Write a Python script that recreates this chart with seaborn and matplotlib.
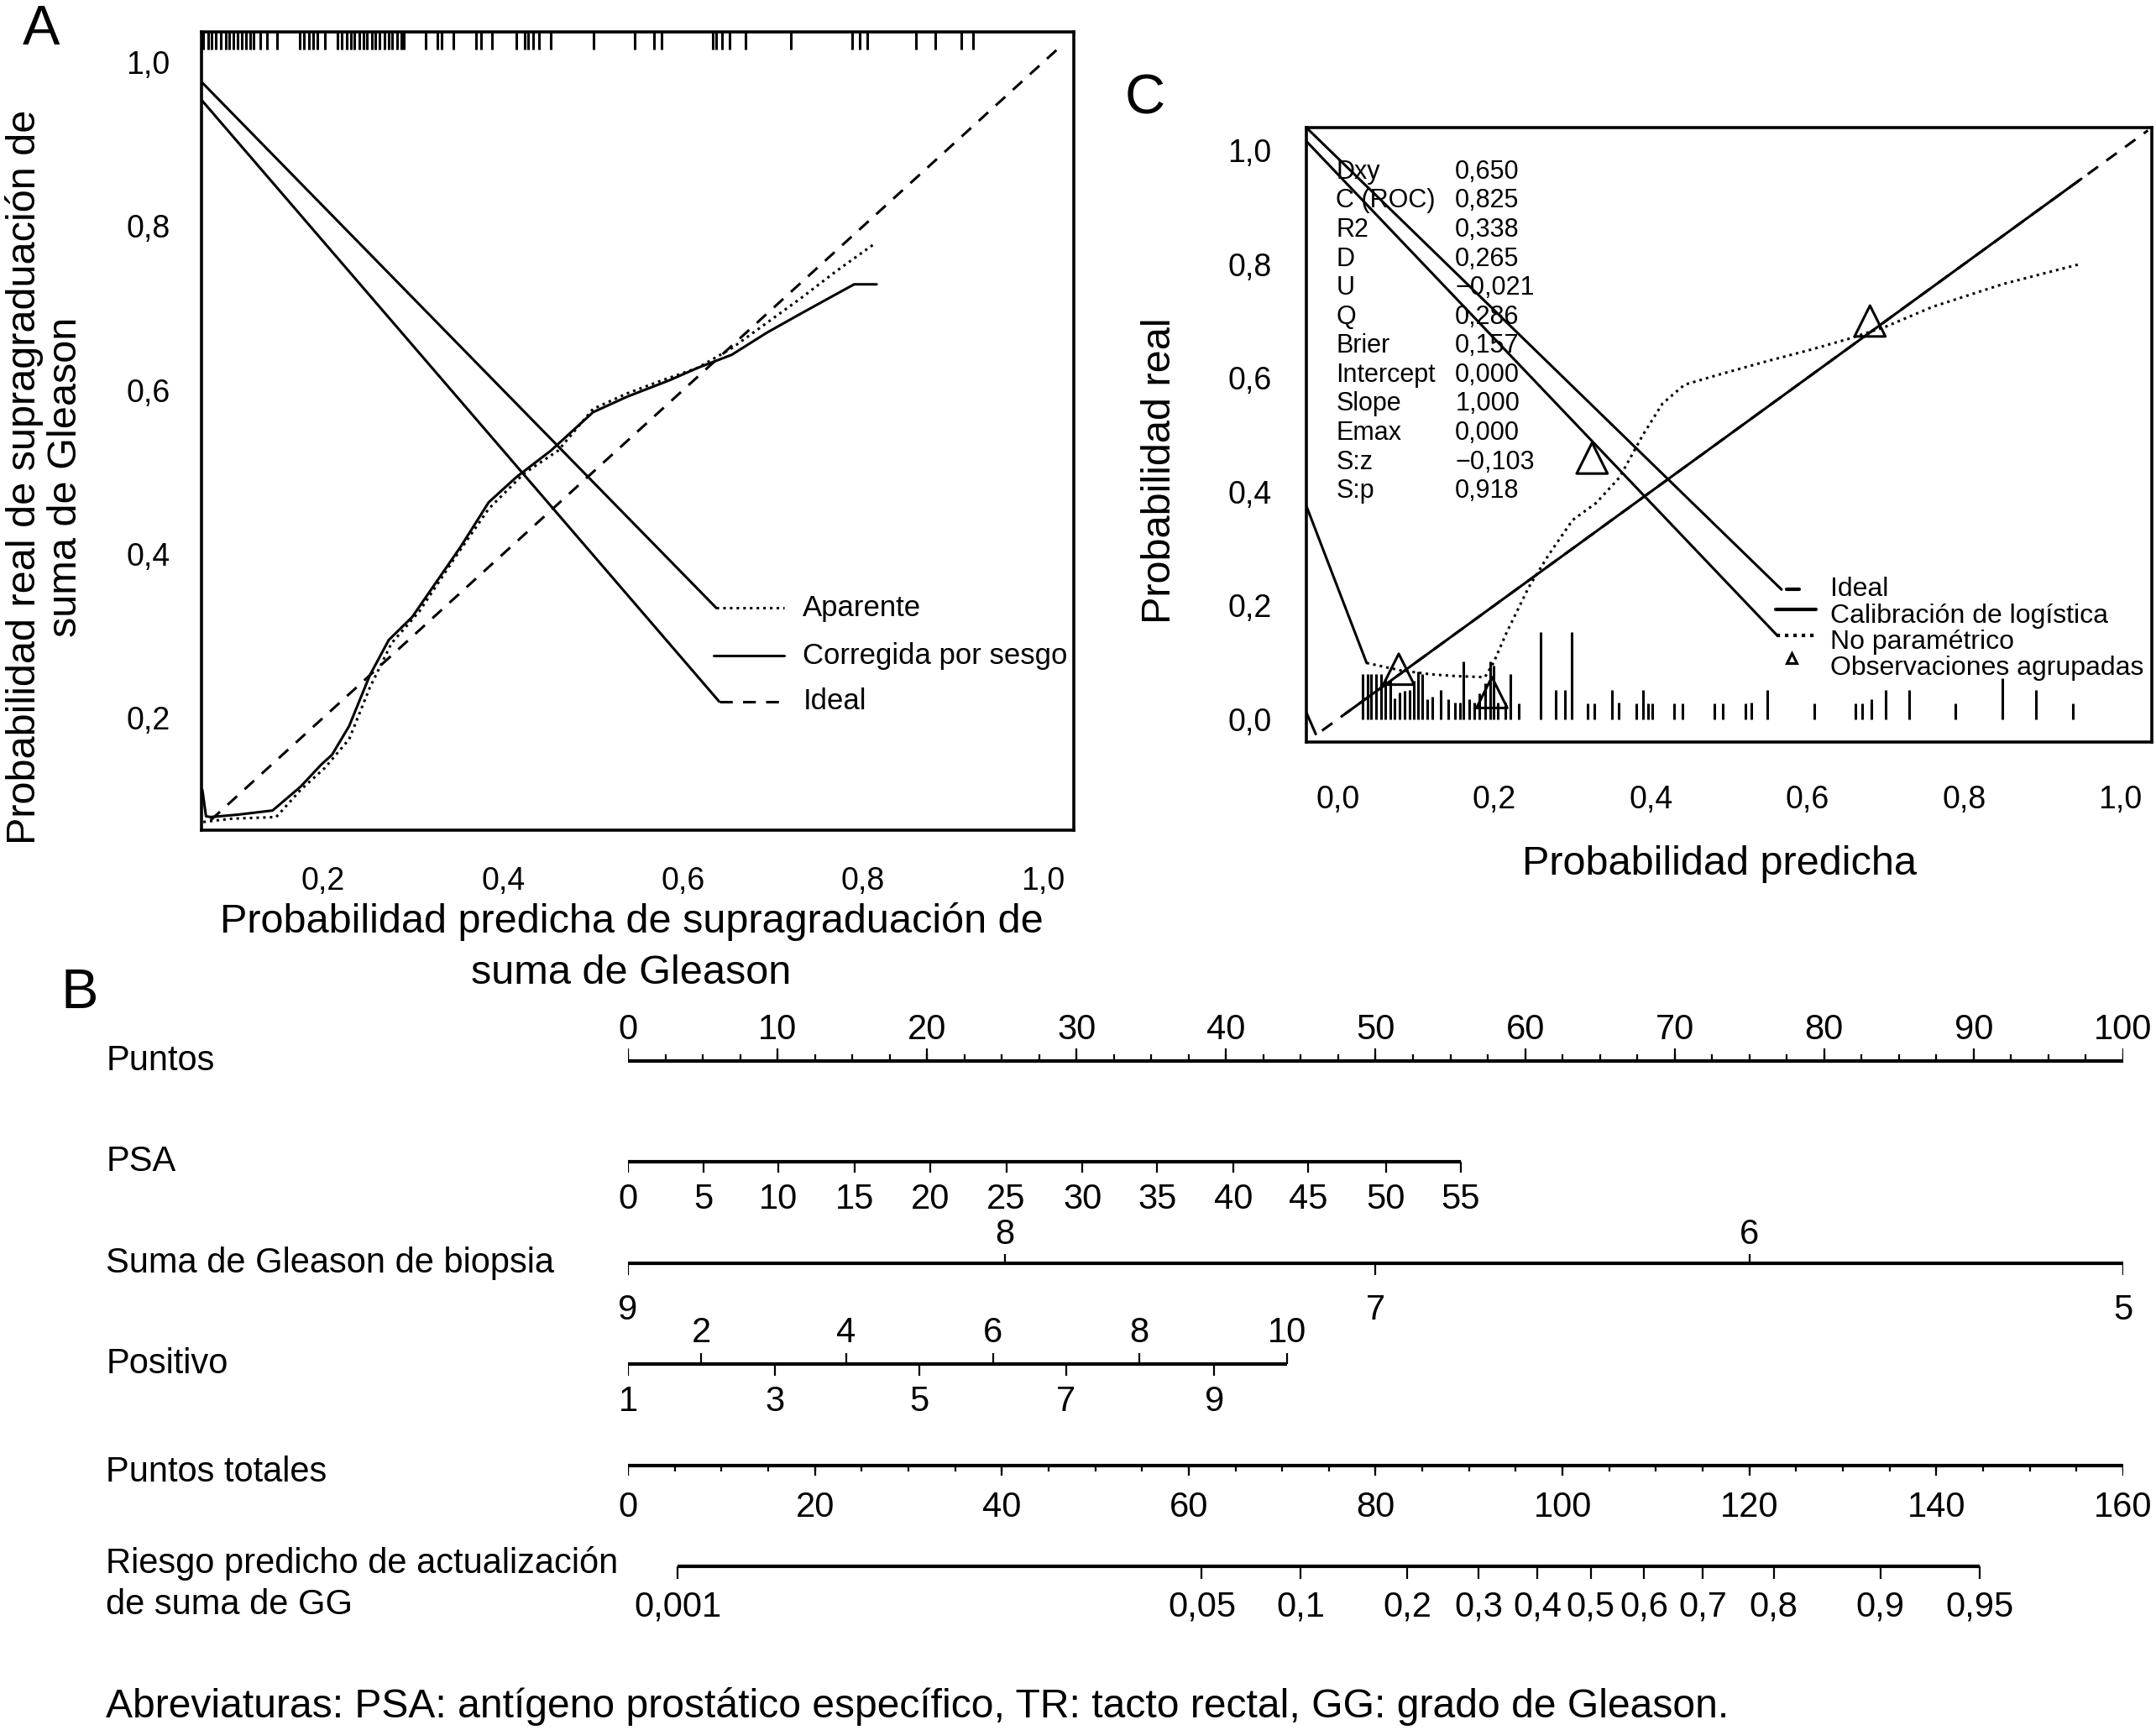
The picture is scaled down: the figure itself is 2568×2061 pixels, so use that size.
import matplotlib
matplotlib.use("Agg")
import matplotlib.pyplot as plt
import numpy as np
import pandas as pd
import seaborn as sns

W, H = 2568, 2061

# ---------------- panel A: bootstrap calibration ----------------
A_TICKS = [0.2, 0.4, 0.6, 0.8, 1.0]
A_RUG = [0.067, 0.072, 0.076, 0.081, 0.086, 0.092, 0.096, 0.100, 0.105, 0.110,
         0.114, 0.119, 0.123, 0.130, 0.138, 0.149, 0.174, 0.179, 0.184, 0.189,
         0.194, 0.202, 0.216, 0.221, 0.226, 0.231, 0.235, 0.240, 0.245, 0.249,
         0.254, 0.258, 0.263, 0.268, 0.273, 0.277, 0.282, 0.287, 0.290, 0.314,
         0.327, 0.332, 0.345, 0.370, 0.376, 0.388, 0.415, 0.424, 0.428, 0.433,
         0.440, 0.453, 0.501, 0.546, 0.568, 0.576, 0.633, 0.637, 0.643, 0.652,
         0.669, 0.720, 0.788, 0.796, 0.805, 0.859, 0.880, 0.909, 0.922]
A_APPARENT_X = [0.067, 0.098, 0.148, 0.175, 0.202, 0.229, 0.252, 0.276, 0.307,
                0.345, 0.384, 0.423, 0.461, 0.500, 0.538, 0.577, 0.616, 0.654,
                0.693, 0.732, 0.770, 0.812]
A_APPARENT_Y = [0.073, 0.077, 0.079, 0.112, 0.139, 0.174, 0.237, 0.291, 0.330,
                0.393, 0.455, 0.498, 0.526, 0.577, 0.596, 0.612, 0.627, 0.651,
                0.682, 0.713, 0.745, 0.778]
A_CORRECTED_X = [0.066, 0.070, 0.075, 0.106, 0.144, 0.175, 0.198, 0.210, 0.229,
                 0.252, 0.273, 0.299, 0.326, 0.353, 0.384, 0.415, 0.453, 0.500,
                 0.538, 0.585, 0.616, 0.654, 0.693, 0.732, 0.770, 0.790, 0.815]
A_CORRECTED_Y = [0.112, 0.080, 0.079, 0.082, 0.087, 0.116, 0.143, 0.155, 0.190,
                 0.252, 0.295, 0.323, 0.366, 0.409, 0.463, 0.494, 0.526, 0.573,
                 0.592, 0.612, 0.627, 0.643, 0.670, 0.694, 0.717, 0.729, 0.729]
A_IDEAL = [0.075, 1.022]
A_LEGEND = ["Aparente", "Corregida por sesgo", "Ideal"]

# ---------------- panel C: validation calibration ----------------
C_TICKS = [0.0, 0.2, 0.4, 0.6, 0.8, 1.0]
C_STAT_NAMES = ["Dxy", "C (ROC)", "R2", "D", "U", "Q", "Brier", "Intercept",
                "Slope", "Emax", "S:z", "S:p"]
C_STAT_VALUES = ["0,650", "0,825", "0,338", "0,265", "\u22120,021", "0,286",
                 "0,157", "0,000", "1,000", "0,000", "\u22120,103", "0,918"]
C_IDEAL = [-0.02, 1.035]
C_LOGISTIC = [0.01, 0.95]
C_NONPAR_X = [0.037, 0.060, 0.080, 0.119, 0.150, 0.188, 0.199, 0.215, 0.244,
              0.270, 0.300, 0.330, 0.360, 0.390, 0.415, 0.443, 0.485, 0.550,
              0.600, 0.651, 0.700, 0.760, 0.850, 0.948]
C_NONPAR_Y = [0.099, 0.092, 0.086, 0.079, 0.076, 0.074, 0.099, 0.150, 0.232,
              0.290, 0.350, 0.380, 0.425, 0.500, 0.555, 0.588, 0.605, 0.630,
              0.648, 0.668, 0.690, 0.725, 0.765, 0.800]
C_GROUP_X = [0.078, 0.197, 0.325, 0.680]
C_GROUP_Y = [0.088, 0.047, 0.459, 0.700]
C_SPIKE_X = [0.032, 0.038, 0.043, 0.049, 0.055, 0.061, 0.067, 0.073, 0.079,
             0.085, 0.092, 0.097, 0.103, 0.108, 0.114, 0.121, 0.132, 0.141,
             0.150, 0.156, 0.161, 0.168, 0.174, 0.181, 0.188, 0.195, 0.199,
             0.205, 0.214, 0.221, 0.231, 0.259, 0.279, 0.290, 0.299, 0.319,
             0.328, 0.350, 0.359, 0.381, 0.390, 0.397, 0.402, 0.430, 0.440,
             0.481, 0.492, 0.521, 0.528, 0.549, 0.609, 0.661, 0.670, 0.682,
             0.700, 0.730, 0.789, 0.849, 0.892, 0.939]
C_SPIKE_H = [0.079, 0.079, 0.079, 0.079, 0.079, 0.069, 0.069, 0.037, 0.047,
             0.050, 0.052, 0.067, 0.084, 0.079, 0.035, 0.040, 0.052, 0.035,
             0.030, 0.030, 0.101, 0.035, 0.030, 0.045, 0.064, 0.101, 0.094,
             0.030, 0.030, 0.079, 0.028, 0.153, 0.052, 0.052, 0.153, 0.028,
             0.028, 0.052, 0.030, 0.028, 0.052, 0.028, 0.028, 0.028, 0.028,
             0.028, 0.028, 0.028, 0.030, 0.052, 0.028, 0.028, 0.028, 0.035,
             0.052, 0.052, 0.028, 0.072, 0.052, 0.028]
C_LEGEND = ["Ideal", "Calibración de logística", "No paramétrico",
            "Observaciones agrupadas"]

# ---------------- panel B: nomogram ----------------
PUNTOS_LABELS = [0, 10, 20, 30, 40, 50, 60, 70, 80, 90, 100]
PSA_VALUES = [0, 5, 10, 15, 20, 25, 30, 35, 40, 45, 50, 55]
PSA_POINTS = [0, 5.06, 10.03, 15.18, 20.24, 25.3, 30.4, 35.4, 40.5, 45.5,
              50.7, 55.7]
GLEASON_VALUES = [9, 8, 7, 6, 5]
GLEASON_POINTS = [0, 25.2, 50.0, 75.0, 100]
POSITIVO_VALUES = [1, 2, 3, 4, 5, 6, 7, 8, 9, 10]
POSITIVO_POINTS = [0, 4.9, 9.8, 14.6, 19.5, 24.4, 29.3, 34.2, 39.2, 44.1]
TOTAL_LABELS = [0, 20, 40, 60, 80, 100, 120, 140, 160]
TOTAL_MAX = 160
RISK_LABELS = ["0,001", "0,05", "0,1", "0,2", "0,3", "0,4", "0,5", "0,6",
               "0,7", "0,8", "0,9", "0,95"]
RISK_TOTAL = [5.3, 61.4, 72.0, 83.4, 91.0, 97.3, 103.0, 108.7, 115.0, 122.6,
              134.0, 144.6]
ROW_NAMES = ["Puntos", "PSA", "Suma de Gleason de biopsia", "Positivo",
             "Puntos totales"]
FOOTNOTE = ("Abreviaturas: PSA: antígeno prostático específico, TR: tacto "
            "rectal, GG: grado de Gleason.")

TICK_FS = 27
LABEL_FS = 35
NOMO_FS = 30
NOMO_TICK_FS = 30
FOOT_FS = 34.6
LW = 2.2


def frame(left, top, right, bottom):
    return [left / W, 1 - bottom / H, (right - left) / W, (bottom - top) / H]


def comma(v):
    return f"{v:.1f}".replace(".", ",")


def style_axes(ax, ticks, xticks):
    for sp in ax.spines.values():
        sp.set_visible(True)
        sp.set_color("black")
        sp.set_linewidth(2.6)
    ax.set_xticks(xticks)
    ax.set_xticklabels([comma(t) for t in xticks])
    ax.set_yticks(ticks)
    ax.set_yticklabels([comma(t) for t in ticks])
    ax.tick_params(axis="both", direction="out", length=21, width=2.2,
                   labelsize=TICK_FS, colors="black")
    ax.tick_params(axis="x", pad=10)
    ax.tick_params(axis="y", pad=6)
    ax.set_xlabel("")
    ax.set_ylabel("")
    ax.grid(False)


def draw_panel_a(fig):
    ax = fig.add_axes(frame(240, 38, 1279, 989))
    ax.set_xlim(0.065, 1.034)
    ax.set_ylim(0.063, 1.037)

    ax.plot(A_IDEAL, A_IDEAL, color="black", lw=LW, ls=(0, (5, 4)))
    sns.lineplot(x=A_APPARENT_X, y=A_APPARENT_Y, ax=ax, color="black", lw=LW,
                 linestyle=(0, (1, 1.6)), sort=False, estimator=None)
    sns.lineplot(x=A_CORRECTED_X, y=A_CORRECTED_Y, ax=ax, color="black", lw=LW,
                 sort=False, estimator=None)

    ax.vlines(A_RUG, 1.037 - 0.022, 1.037, color="black", lw=2.2)

    # legend with its leader lines
    ax.plot([0.065, 0.637], [0.976, 0.334], color="black", lw=LW)
    ax.plot([0.065, 0.640], [0.954, 0.220], color="black", lw=LW)
    ax.plot([0.637, 0.712], [0.334, 0.334], color="black", lw=LW,
            ls=(0, (1, 1.6)))
    ax.plot([0.634, 0.712], [0.276, 0.276], color="black", lw=LW)
    ax.plot([0.640, 0.712], [0.220, 0.220], color="black", lw=LW,
            ls=(0, (5, 4)))
    for label, y in zip(A_LEGEND, [0.334, 0.276, 0.220]):
        ax.text(0.733, y, label, fontsize=25, va="center", ha="left")

    style_axes(ax, A_TICKS, A_TICKS)
    fig.text(29 / W, 1 - 568 / H, "Probabilidad real de supragraduación de",
             rotation=90, ha="center", va="center", fontsize=LABEL_FS)
    fig.text(79 / W, 1 - 568 / H, "suma de Gleason", rotation=90,
             ha="center", va="center", fontsize=LABEL_FS)
    fig.text(752 / W, 1 - 1098 / H,
             "Probabilidad predicha de supragraduación de",
             ha="center", va="center", fontsize=LABEL_FS)
    fig.text(752 / W, 1 - 1159 / H, "suma de Gleason", ha="center",
             va="center", fontsize=LABEL_FS)
    fig.text(49 / W, 1 - 36 / H, "A", ha="center", va="center", fontsize=48)


def draw_panel_c(fig):
    ax = fig.add_axes(frame(1556, 152, 2563, 884))
    ax.set_xlim(-0.04, 1.04)
    ax.set_ylim(-0.04, 1.04)

    ax.plot(C_IDEAL, C_IDEAL, color="black", lw=LW, ls=(0, (5, 4)))
    ax.plot(C_LOGISTIC, C_LOGISTIC, color="black", lw=LW)
    sns.lineplot(x=C_NONPAR_X, y=C_NONPAR_Y, ax=ax, color="black", lw=LW,
                 linestyle=(0, (1, 1.6)), sort=False, estimator=None)
    ax.plot([-0.04, C_NONPAR_X[0]], [0.375, C_NONPAR_Y[0]], color="black",
            lw=LW)
    ax.plot([-0.04, -0.028], [0.012, -0.026], color="black", lw=LW)
    ax.vlines(C_SPIKE_X, 0, C_SPIKE_H, color="black", lw=2.2)
    sns.scatterplot(x=C_GROUP_X, y=C_GROUP_Y, ax=ax, marker="^", s=700,
                    facecolor="none", edgecolor="black", linewidth=2.2)

    # legend with its leader lines
    ax.plot([-0.04, 0.567], [1.040, 0.228], color="black", lw=LW)
    ax.plot([-0.04, 0.561], [1.016, 0.148], color="black", lw=LW)
    ax.plot([0.574, 0.590], [0.228, 0.228], color="black", lw=LW + 0.8)
    ax.plot([0.559, 0.611], [0.193, 0.193], color="black", lw=LW + 0.8)
    ax.plot([0.561, 0.611], [0.148, 0.148], color="black", lw=LW + 0.8,
            ls=(0, (1, 1.4)))
    ax.plot([0.580], [0.108], marker="^", ms=9, mfc="none", mec="black",
            mew=2.2, ls="none")
    for label, y in zip(C_LEGEND, [0.228, 0.181, 0.136, 0.090]):
        ax.text(0.629, y, label, fontsize=23, va="center", ha="left")

    for i, (name, val) in enumerate(zip(C_STAT_NAMES, C_STAT_VALUES)):
        y = 0.962 - i * 0.051
        ax.text(-0.002, y, name, fontsize=22, va="center", ha="left")
        ax.text(0.150, y, val, fontsize=22, va="center", ha="left")

    style_axes(ax, C_TICKS, C_TICKS)
    ax.tick_params(axis="x", pad=16)
    ax.tick_params(axis="y", pad=9)
    fig.text(1381 / W, 1 - 561 / H, "Probabilidad real", rotation=90,
             ha="center", va="center", fontsize=LABEL_FS)
    fig.text(2048 / W, 1 - 1029 / H, "Probabilidad predicha", ha="center",
             va="center", fontsize=LABEL_FS)
    fig.text(1364 / W, 1 - 118 / H, "C", ha="center", va="center",
             fontsize=48)


def nomo_ticks(ax, row, xs, length, lw=1.6):
    for x in xs:
        ax.plot([x, x], [row, row + length], color="black", lw=lw,
                solid_capstyle="butt")


def nomo_labels(ax, row, xs, labels, offset):
    for x, lab in zip(xs, labels):
        ax.text(x, row + offset, str(lab), ha="center", va="center",
                fontsize=NOMO_TICK_FS)


def draw_nomogram(fig):
    ax = fig.add_axes(frame(748, 1143, 2529, 1987))
    ax.set_xlim(0, 100)
    ax.set_ylim(6, -1)
    ax.axis("off")
    line_kw = dict(color="black", lw=3.0, solid_capstyle="butt")

    # Puntos
    ax.plot([0, 100], [0, 0], **line_kw)
    nomo_ticks(ax, 0, np.arange(0, 100.1, 2.5), -0.065)
    nomo_ticks(ax, 0, PUNTOS_LABELS, -0.12)
    nomo_labels(ax, 0, PUNTOS_LABELS, PUNTOS_LABELS, -0.30)

    # PSA
    ax.plot([0, PSA_POINTS[-1]], [1, 1], **line_kw)
    nomo_ticks(ax, 1, PSA_POINTS, 0.11)
    nomo_labels(ax, 1, PSA_POINTS, PSA_VALUES, 0.37)

    # Suma de Gleason
    ax.plot([0, 100], [2, 2], **line_kw)
    up = [(p, v) for p, v in zip(GLEASON_POINTS, GLEASON_VALUES) if v % 2 == 0]
    dn = [(p, v) for p, v in zip(GLEASON_POINTS, GLEASON_VALUES) if v % 2 == 1]
    nomo_ticks(ax, 2, [p for p, _ in up], -0.09)
    nomo_labels(ax, 2, [p for p, _ in up], [v for _, v in up], -0.28)
    nomo_ticks(ax, 2, [p for p, _ in dn], 0.12)
    nomo_labels(ax, 2, [p for p, _ in dn], [v for _, v in dn], 0.47)

    # Positivo
    ax.plot([0, POSITIVO_POINTS[-1]], [3, 3], **line_kw)
    up = [(p, v) for p, v in zip(POSITIVO_POINTS, POSITIVO_VALUES) if v % 2 == 0]
    dn = [(p, v) for p, v in zip(POSITIVO_POINTS, POSITIVO_VALUES) if v % 2 == 1]
    nomo_ticks(ax, 3, [p for p, _ in up], -0.11)
    nomo_labels(ax, 3, [p for p, _ in up], [v for _, v in up], -0.31)
    nomo_ticks(ax, 3, [p for p, _ in dn], 0.11)
    nomo_labels(ax, 3, [p for p, _ in dn], [v for _, v in dn], 0.37)

    # Puntos totales
    scale = 100 / TOTAL_MAX
    ax.plot([0, 100], [4, 4], **line_kw)
    nomo_ticks(ax, 4, np.arange(0, TOTAL_MAX + 0.1, 5) * scale, 0.06)
    nomo_ticks(ax, 4, np.array(TOTAL_LABELS) * scale, 0.10)
    nomo_labels(ax, 4, np.array(TOTAL_LABELS) * scale, TOTAL_LABELS, 0.42)

    # Riesgo predicho
    risk_x = np.array(RISK_TOTAL) * scale
    ax.plot([risk_x[0], risk_x[-1]], [5, 5], **line_kw)
    nomo_ticks(ax, 5, risk_x, 0.12)
    nomo_labels(ax, 5, risk_x, RISK_LABELS, 0.40)

    # row names
    name_x = -34.9
    for i, name in enumerate(ROW_NAMES):
        dy = 0.07 if name == "Puntos totales" else 0.0
        ax.text(name_x, i + dy, name, ha="left", va="center",
                fontsize=NOMO_FS, clip_on=False)
    ax.text(name_x, 4.97, "Riesgo predicho de actualización", ha="left",
            va="center", fontsize=NOMO_FS, clip_on=False)
    ax.text(name_x, 5.38, "de suma de GG", ha="left", va="center",
            fontsize=NOMO_FS, clip_on=False)

    fig.text(95 / W, 1 - 1184 / H, "B", ha="center", va="center", fontsize=48)
    fig.text(126 / W, 1 - 2033 / H, FOOTNOTE, ha="left", va="center",
             fontsize=FOOT_FS)


def main():
    sns.set_theme(style="white")
    plt.rcParams["font.family"] = ["Liberation Sans", "DejaVu Sans"]
    plt.rcParams["text.color"] = "black"

    fig = plt.figure(figsize=(W / 100, H / 100), dpi=100)
    fig.patch.set_facecolor("white")
    draw_panel_a(fig)
    draw_panel_c(fig)
    draw_nomogram(fig)
    fig.savefig("out.png", dpi=100, facecolor="white")
    plt.close(fig)


if __name__ == "__main__":
    main()
